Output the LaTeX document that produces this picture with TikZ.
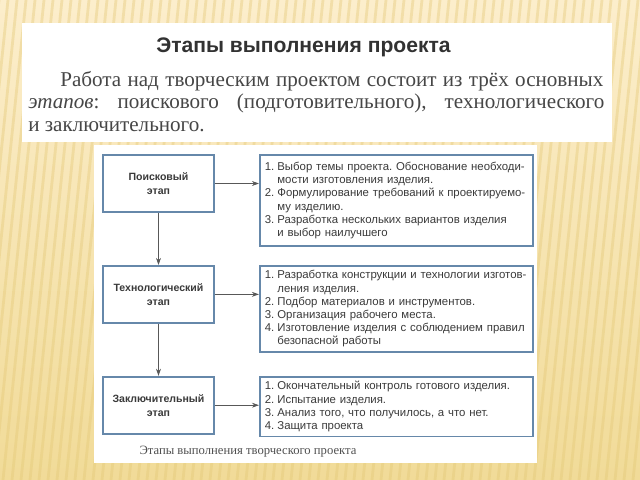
\documentclass[tikz,border=0pt]{standalone}
\usepackage{fontspec}
\setmainfont{Liberation Serif}
\setsansfont{Liberation Sans}
\usetikzlibrary{positioning,arrows.meta}

\definecolor{boxblue}{RGB}{102,136,170}
\definecolor{inkgray}{RGB}{58,58,58}
\definecolor{creamtop}{RGB}{252,238,204}
\definecolor{creambot}{RGB}{241,219,152}
\definecolor{stripe}{RGB}{228,200,118}

\newcommand{\itemno}[1]{\makebox[1.1em][l]{#1}}
\newcommand{\contline}{\hspace*{1.1em}}

\begin{document}
\frenchspacing
\begin{tikzpicture}[x=0.025cm, y=-0.025cm,
  stagebox/.style={rectangle, draw=boxblue, line width=1.3pt, fill=white, minimum width=2.775cm, minimum height=1.425cm, align=center, text=inkgray, font=\sffamily\bfseries\fontsize{7.5}{10}\selectfont},
  listbox/.style={rectangle, draw=boxblue, line width=1.3pt, fill=white, minimum width=6.825cm, inner xsep=0.125cm, text width=6.575cm, align=left, text=inkgray, font=\sffamily\fontsize{8.1}{9.4}\selectfont},
  bodyline/.style={anchor=base west, inner sep=0pt, text={rgb,255:red,70;green,70;blue,70}, font=\fontsize{15}{17}\selectfont},
  link/.style={-{Stealth[length=5pt,width=3.5pt]}, draw=inkgray!85, line width=0.5pt}]

% Background with stripes
\useasboundingbox (0,0) rectangle (640,480);
\shade[top color=creamtop, bottom color=creambot] (0,0) rectangle (640,480);
\foreach \s in {-60,-51,...,640}
  \draw[stripe, opacity=0.4, line width=2pt] (\s,480) -- (\s+50,0);

% White sheets
\fill[white] (22,23) rectangle (612,142);
\fill[white] (94,145) rectangle (537,463);

% Heading and text
\node (title) [text={rgb,255:red,50;green,50;blue,50}, font=\sffamily\bfseries\fontsize{15}{18}\selectfont] at (303.5,47) {Этапы выполнения проекта};
\node (line1) [bodyline] at (60,86) {\makebox[13.575cm][s]{Работа над творческим проектом состоит из трёх основных}};
\node (line2) [bodyline] at (28,108.5) {\makebox[14.4cm][s]{\textit{этапов}: поискового (подготовительного), технологического}};
\node (line3) [bodyline] at (28,131) {и заключительного.};

% Stages
\node (search) [stagebox] at (158.5,183.5) {Поисковый\\этап};
\node (tech) [stagebox, below=1.3cm of search] {Технологический\\этап};
\node (final) [stagebox, below=1.3cm of tech] {Заключительный\\этап};

% Work of each stage
\node (search_list) [listbox, minimum height=2.275cm, right=1.1cm of search.north east, anchor=north west] {%
\itemno{1.}Выбор темы проекта. Обоснование необходи-\\
\contline мости изготовления изделия.\\
\itemno{2.}Формулирование требований к проектируемо-\\
\contline му изделию.\\
\itemno{3.}Разработка нескольких вариантов изделия\\
\contline и выбор наилучшего};

\node (tech_list) [listbox, minimum height=2.15cm, right=1.1cm of tech.north east, anchor=north west] {%
\itemno{1.}Разработка конструкции и технологии изготов-\\
\contline ления изделия.\\
\itemno{2.}Подбор материалов и инструментов.\\
\itemno{3.}Организация рабочего места.\\
\itemno{4.}Изготовление изделия с соблюдением правил\\
\contline безопасной работы};

\node (final_list) [listbox, minimum height=1.45cm, right=1.1cm of final.north east, anchor=north west] {%
\itemno{1.}Окончательный контроль готового изделия.\\
\itemno{2.}Испытание изделия.\\
\itemno{3.}Анализ того, что получилось, а что нет.\\
\itemno{4.}Защита проекта};

% Caption
\node (caption) [text={rgb,255:red,80;green,80;blue,80}, font=\fontsize{9}{11}\selectfont] at (248,452) {Этапы выполнения творческого проекта};

% Arrows
\draw[link] (search) -- (tech);
\draw[link] (tech) -- (final);
\draw[link] (search.east) -- (search.east -| search_list.west);
\draw[link] (tech.east) -- (tech.east -| tech_list.west);
\draw[link] (final.east) -- (final.east -| final_list.west);

\end{tikzpicture}
\end{document}
